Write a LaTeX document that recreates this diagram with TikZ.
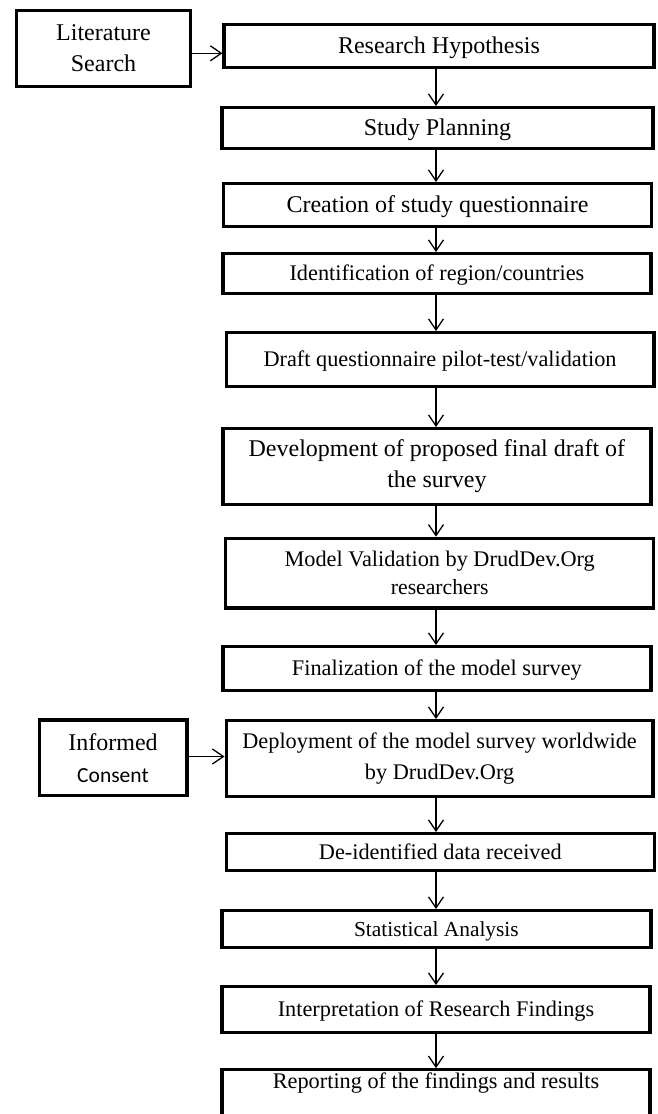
\documentclass[tikz,border=0pt]{standalone}
\usepackage{fontspec}
\setmainfont{Liberation Serif}
\newfontfamily\calibri{Carlito}
\usetikzlibrary{arrows.meta}
\tikzset{
  box/.style={draw=black, line width=3.3pt, rectangle, inner sep=0pt, align=center, fill=white},
  bigtxt/.style={font=\fontsize{24}{31}\selectfont},
  smalltxt/.style={font=\fontsize{22.3}{30.7}\selectfont},
  onebig/.style={text height=15.9pt, text depth=0pt},
  onesmall/.style={text height=14.8pt, text depth=0pt},
  flow/.style={line width=1.3pt, -{Straight Barb[length=11pt,width=15pt]}},
}
\begin{document}
\begin{tikzpicture}[x=1pt,y=-1pt]
\useasboundingbox (0,0) rectangle (658,1114);
\clip (0,0) rectangle (658,1114);
\node[box, bigtxt, minimum width=173.7pt, minimum height=75.7pt] (lit) at (103.5,48.5) {Literature\\Search};
\node[box, bigtxt, onebig, minimum width=429.8pt, minimum height=42.7pt] (rh) at (439,46) {Research Hypothesis};
\node[box, bigtxt, onebig, minimum width=431pt, minimum height=40.7pt] (sp) at (437.5,128) {Study Planning};
\node[box, bigtxt, onebig, minimum width=428.5pt, minimum height=42.7pt] (cr) at (437.5,205) {Creation of study questionnaire};
\node[box, smalltxt, onesmall, minimum width=428pt, minimum height=39.7pt] (id) at (436.9,273.5) {Identification of region/countries};
\node[box, smalltxt, onesmall, minimum width=427.7pt, minimum height=53.7pt] (dr) at (440,359.5) {Draft questionnaire pilot-test/validation};
\node[box, bigtxt, minimum width=428pt, minimum height=75.7pt] (dev) at (436.9,466.5) {Development of proposed final draft of\\the survey};
\node[box, font=\fontsize{22.3}{27.7}\selectfont, minimum width=428pt, minimum height=69.7pt] (mv) at (439.7,573.2) {Model Validation by DrudDev.Org\\{\fontsize{21.7}{27.7}\selectfont researchers}};
\node[box, smalltxt, onesmall, minimum width=428pt, minimum height=43.7pt] (fin) at (436.9,668.5) {Finalization of the model survey};
\node[box, font=\fontsize{24}{32}\selectfont, minimum width=147.7pt, minimum height=75.7pt] (ic) at (113,757.7) {Informed\\{\calibri\fontsize{21.5}{32}\selectfont Consent}};
\node[box, smalltxt, minimum width=426.8pt, minimum height=75.7pt] (dep) at (439.6,758.5) {Deployment of the model survey worldwide\\by DrudDev.Org};
\node[box, smalltxt, onesmall, minimum width=428.2pt, minimum height=36.7pt] (de) at (440.3,852) {De-identified data received};
\node[box, font=\fontsize{21.4}{28}\selectfont, text height=14.2pt, text depth=0pt, minimum width=428.9pt, minimum height=36.7pt] (st) at (436.4,929) {Statistical Analysis};
\node[box, smalltxt, onesmall, minimum width=428.1pt, minimum height=45.7pt] (int) at (436,1009.5) {Interpretation of Research Findings};
\node[box, smalltxt, text height=14.8pt, text depth=36.4pt, minimum width=428.1pt, minimum height=59.4pt] (rep) at (436,1099.5) {Reporting of the findings and results};
\coordinate (ax) at (436,0);
\coordinate (h1) at (0,53.3);
\coordinate (h2) at (0,756.5);
\draw[flow] (lit.east |- h1) -- (rh.west |- h1);
\draw[flow] (ic.east |- h2) -- (dep.west |- h2);
\foreach \a/\b in {rh/sp, sp/cr, cr/id, id/dr, dr/dev, dev/mv, mv/fin, fin/dep, dep/de, de/st, st/int, int/rep}
  \draw[flow] (\a.south -| ax) -- (\b.north -| ax);
\end{tikzpicture}
\end{document}
